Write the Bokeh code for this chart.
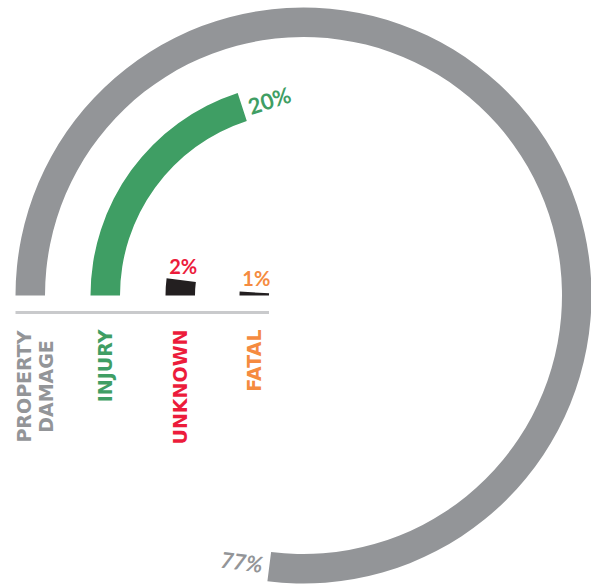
import numpy as np
from bokeh.plotting import figure
from bokeh.models import ColumnDataSource, Range1d
from bokeh.core.properties import value
from bokeh.embed import file_html
from bokeh.resources import INLINE

# ---- data ----
categories = ["PROPERTY\nDAMAGE", "INJURY", "UNKNOWN", "FATAL"]
percent_values = [77, 20, 2, 1]
percent_labels = ["77%", "20%", "2%", "1%"]

# ---- styles ----
bar_colors = ["#939598", "#3f9e64", "#231f20", "#231f20"]
label_colors = ["#939598", "#3f9e64", "#ec1c3b", "#f58b3f"]
outer_r = np.array([288.0, 213.0, 138.0, 64.0])
thickness = 29.5
inner_r = outer_r - thickness
mid_r = outer_r - thickness / 2

W, H = 591, 584
cx, cy = 303, 295  # centre in figure pixels from left / top
p = figure(width=W, height=H, output_backend="svg", toolbar_location=None,
           x_range=Range1d(-cx, W - cx), y_range=Range1d(-(H - cy), cy),
           min_border=0, background_fill_color="white", border_fill_color="white")
p.axis.visible = False
p.grid.visible = False
p.outline_line_color = None

vals = np.array(percent_values, dtype=float)
start = np.full(len(vals), np.pi)
end = np.pi - vals / 100.0 * 2 * np.pi

src = ColumnDataSource(dict(inner=inner_r, outer=outer_r, start=start, end=end,
                            color=bar_colors))
p.annular_wedge(x=0, y=0, inner_radius="inner", outer_radius="outer",
                start_angle="start", end_angle="end", direction="clock",
                fill_color="color", line_color=None, source=src)

# baseline
p.line(x=[-outer_r[0], -inner_r[-1]], y=[-17, -17], line_color="#c9cacc", line_width=3)

# category labels (rotated)
cat_font = value("DejaVu Sans")
pct_font = value("Lato")
for i, cat in enumerate(categories):
    xpos = -mid_r[i]
    if "\n" in cat:
        p.text(x=[xpos + 5], y=[-91], text=[cat], angle=np.pi / 2,
               text_align="center", text_baseline="middle",
               text_font=cat_font, text_font_style="bold", text_font_size="19px",
               text_color=label_colors[i], text_line_height=1.0)
    else:
        p.text(x=[xpos], y=[-34], text=[cat], angle=np.pi / 2,
               text_align="right", text_baseline="middle",
               text_font=cat_font, text_font_style="bold", text_font_size="19px",
               text_color=label_colors[i])

# percentage labels
for i, lab in enumerate(percent_labels):
    th = end[i]
    if vals[i] >= 5:
        a = th - 28.0 / mid_r[i]
        lx, ly = mid_r[i] * np.cos(a), mid_r[i] * np.sin(a)
        ang = th - np.pi / 2
        if np.cos(ang) < 0:
            ang += np.pi
        ang = (ang + np.pi) % (2 * np.pi) - np.pi
        style = "bold italic" if i == 0 else "bold"
        p.text(x=[lx], y=[ly], text=[lab], angle=ang, text_align="center",
               text_baseline="middle", text_font=pct_font, text_font_style=style,
               text_font_size="22px", text_color=label_colors[i])
    else:
        lx, ly = mid_r[i] * np.cos(th), mid_r[i] * np.sin(th) + 14
        p.text(x=[lx + 2], y=[ly], text=[lab], text_align="center",
               text_baseline="middle", text_font=pct_font, text_font_style="bold",
               text_font_size="20px", text_color=label_colors[i])

open("out.html", "w").write(file_html(p, INLINE))
